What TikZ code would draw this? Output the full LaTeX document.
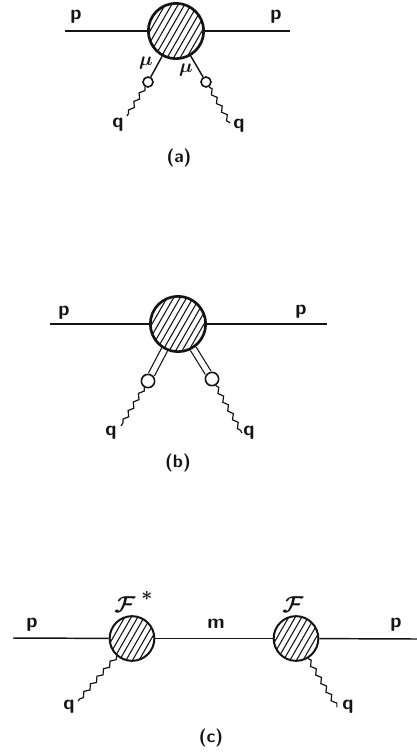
\documentclass[tikz,border=0pt]{standalone}
\usepackage{xcolor}
\usepackage{tikz}
\usetikzlibrary{calc, decorations.pathmorphing}
\definecolor{inkblack}{HTML}{141414}
\tikzset{
  blob/.style={circle, draw=inkblack, line width=#1, minimum size=41.5pt, inner sep=0pt,
    path picture={
      \foreach \off in {-65,-58.5,...,65}
        \draw[inkblack, line width=0.8pt]
          ($(path picture bounding box.center)+(\off-23,40)$) -- ($(path picture bounding box.center)+(\off+23,-40)$);
    }},
  blob/.default=2pt,
  vertex/.style={circle, draw=inkblack, fill=white, line width=1.2pt, inner sep=0pt, minimum size=#1},
  lbl/.style={inner sep=0pt, text=inkblack, font=\fontsize{15}{17}\selectfont\sffamily\bfseries},
  mathlbl/.style={inner sep=0pt, text=inkblack, font=\fontsize{#1}{21}\selectfont\boldmath},
  capt/.style={inner sep=0pt, text=inkblack, font=\fontsize{13.5}{16}\selectfont\sffamily\bfseries},
  fermion/.style={draw=inkblack, line width=1.1pt},
  doubled/.style={draw=inkblack, line width=0.9pt, double=white, double distance=4pt},
  photon/.style={draw=inkblack, line width=0.9pt, decorate,
    decoration={snake, amplitude=1.4pt, segment length=7.5pt}},
}
\begin{document}
\begin{tikzpicture}[x=0.75pt, y=-0.75pt]
    \useasboundingbox (0,0) rectangle (417,753);

    % diagram a
    \node[blob] (blobA) at (176,31) {};
    \coordinate (inA) at (65,31);
    \coordinate (outA) at (290,31);
    \node[vertex=7.5pt] (loopAl) at (148,82) {};
    \node[vertex=7.5pt] (loopAr) at (206,82) {};
    \coordinate (endAl) at (127,116);
    \coordinate (endAr) at (230,123);
    \draw[fermion] (inA) -- (blobA);
    \draw[fermion] (blobA) -- (outA);
    \draw[fermion] (blobA) -- (loopAl);
    \draw[fermion] (blobA) -- (loopAr);
    \draw[photon] (loopAl) -- (endAl);
    \draw[photon] (loopAr) -- (endAr);
    \node[lbl] (pAl) at (76,17) {p};
    \node[lbl] (pAr) at (276,17) {p};
    \node[mathlbl=14] (muAl) at (146,63) {$\mu$};
    \node[mathlbl=14] (muAr) at (186,70) {$\mu$};
    \node[lbl] (qAl) at (118,125) {q};
    \node[lbl] (qAr) at (239,126) {q};
    \node[capt] (captA) at (179,158) {(a)};

    % diagram b
    \node[blob] (blobB) at (178,324) {};
    \coordinate (inB) at (50,324);
    \coordinate (outB) at (327,324);
    \node[vertex=10pt] (loopBl) at (148,381) {};
    \node[vertex=10pt] (loopBr) at (212,379) {};
    \coordinate (endBl) at (121,426);
    \coordinate (endBr) at (242,433);
    \draw[fermion] (inB) -- (blobB);
    \draw[fermion] (blobB) -- (outB);
    \draw[doubled] (blobB) -- (loopBl);
    \draw[doubled] (blobB) -- (loopBr);
    \draw[photon] (loopBl) -- (endBl);
    \draw[photon] (loopBr) -- (endBr);
    \node[lbl] (pBl) at (64,313) {p};
    \node[lbl] (pBr) at (301,312) {p};
    \node[lbl] (qBl) at (111,433) {q};
    \node[lbl] (qBr) at (249,433) {q};
    \node[capt] (captB) at (178,463) {(b)};

    % diagram c
    \node[blob=1.5pt, minimum size=33.5pt] (blobCl) at (132,638.5) {};
    \node[blob=1.5pt, minimum size=33.5pt] (blobCr) at (296,638.5) {};
    \coordinate (inC) at (13,638);
    \coordinate (outC) at (417,639);
    \coordinate (endCl) at (78,701);
    \coordinate (endCr) at (337,707);
    \draw[fermion] (inC) -- (blobCl);
    \draw[fermion] (blobCl) -- (blobCr);
    \draw[fermion] (blobCr) -- (outC);
    \draw[photon] (blobCl) -- (endCl);
    \draw[photon] (blobCr) -- (endCr);
    \node[lbl] (pCl) at (32,625) {p};
    \node[lbl] (pCr) at (396,625) {p};
    \node[lbl] (mC) at (216,624) {m};
    \node[mathlbl=19] (formCl) at (125,605) {$\mathcal{F}$};
    \node[mathlbl=14] (starC) at (147,596) {$*$};
    \node[mathlbl=19] (formCr) at (293,605) {$\mathcal{F}$};
    \node[lbl] (qCl) at (69,707) {q};
    \node[lbl] (qCr) at (348,707) {q};
    \node[capt] (captC) at (211,738) {(c)};
\end{tikzpicture}
\end{document}
